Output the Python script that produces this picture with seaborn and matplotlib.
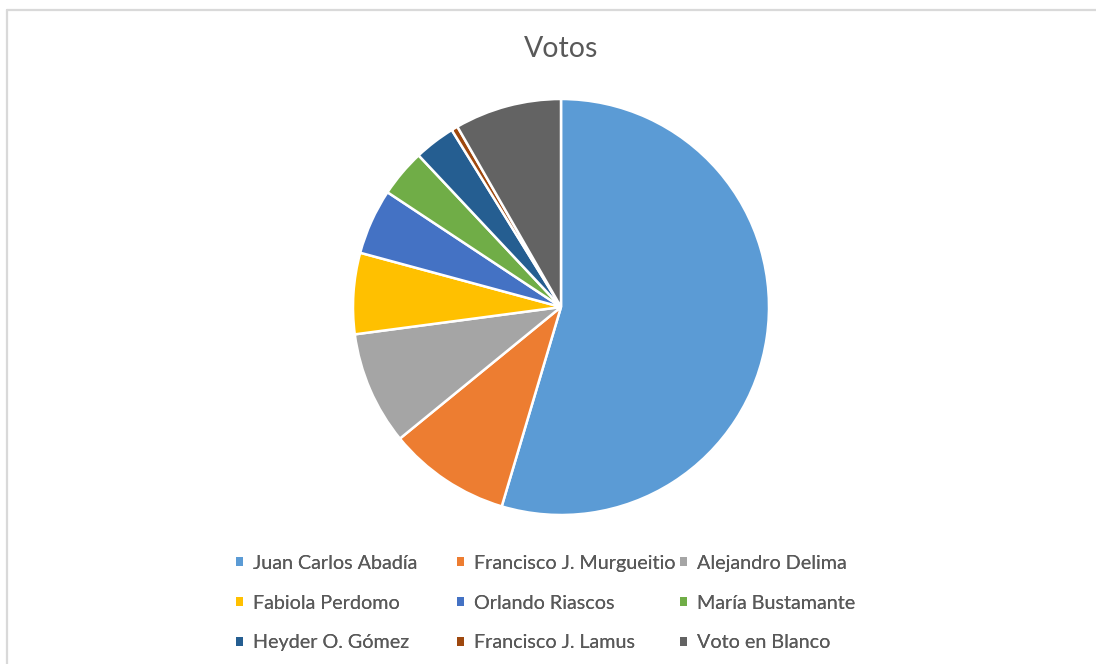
import matplotlib
matplotlib.use("Agg")
import matplotlib.pyplot as plt
from matplotlib.lines import Line2D
import seaborn as sns

# Datos (porcentaje de votos)
candidatos = ["Juan Carlos Abadía", "Francisco J. Murgueitio", "Alejandro Delima",
              "Fabiola Perdomo", "Orlando Riascos", "María Bustamante",
              "Heyder O. Gómez", "Francisco J. Lamus", "Voto en Blanco"]
votos = [54.6, 9.5, 8.8, 6.3, 5.1, 3.7, 3.2, 0.5, 8.3]
colores = ["#5B9BD5", "#ED7D31", "#A5A5A5", "#FFC000", "#4472C4",
           "#70AD47", "#255E91", "#9E480E", "#636363"]

sns.set_theme(style="white")
plt.rcParams["font.family"] = ["Lato", "DejaVu Sans"]
paleta = sns.color_palette(colores)
gris = "#595959"

W, H = 1096, 664
fig = plt.figure(figsize=(W / 100, H / 100), dpi=100)

# borde del área del gráfico (solo arriba e izquierda visibles)
fig.add_artist(Line2D([7 / W, 7 / W], [0, 1 - 9.5 / H], color="#D9D9D9", lw=1.6))
fig.add_artist(Line2D([7 / W, 1], [1 - 9.5 / H, 1 - 9.5 / H], color="#D9D9D9", lw=1.6))

cx, cy, r = 561, 307, 208
ax = fig.add_axes([(cx - r) / W, (H - cy - r) / H, 2 * r / W, 2 * r / H])
wedges, _ = ax.pie(votos, colors=paleta, startangle=90, counterclock=False,
                   wedgeprops=dict(edgecolor="white", linewidth=1.8))
ax.set_xlim(-1.0, 1.0)
ax.set_ylim(-1.0, 1.0)
ax.axis("off")

fig.text(cx / W, 1 - 49 / H, "Votos", ha="center", va="center",
         fontsize=20.5, color=gris)

# leyenda en tres columnas con posiciones fijas
col_x = [236, 457, 680]
for j in range(3):
    idx = [j, j + 3, j + 6]
    leg = fig.legend([wedges[i] for i in idx], [candidatos[i] for i in idx],
                     loc="upper left", bbox_to_anchor=(col_x[j] / W, 1 - 555 / H),
                     frameon=False, fontsize=14.2, labelcolor=gris,
                     handlelength=0.33, handleheight=0.33, handletextpad=0.55,
                     labelspacing=1.15, borderpad=0, borderaxespad=0)
    for h in leg.legend_handles:
        h.set_edgecolor("none")
    fig.add_artist(leg)

fig.savefig("out.png", dpi=100)
